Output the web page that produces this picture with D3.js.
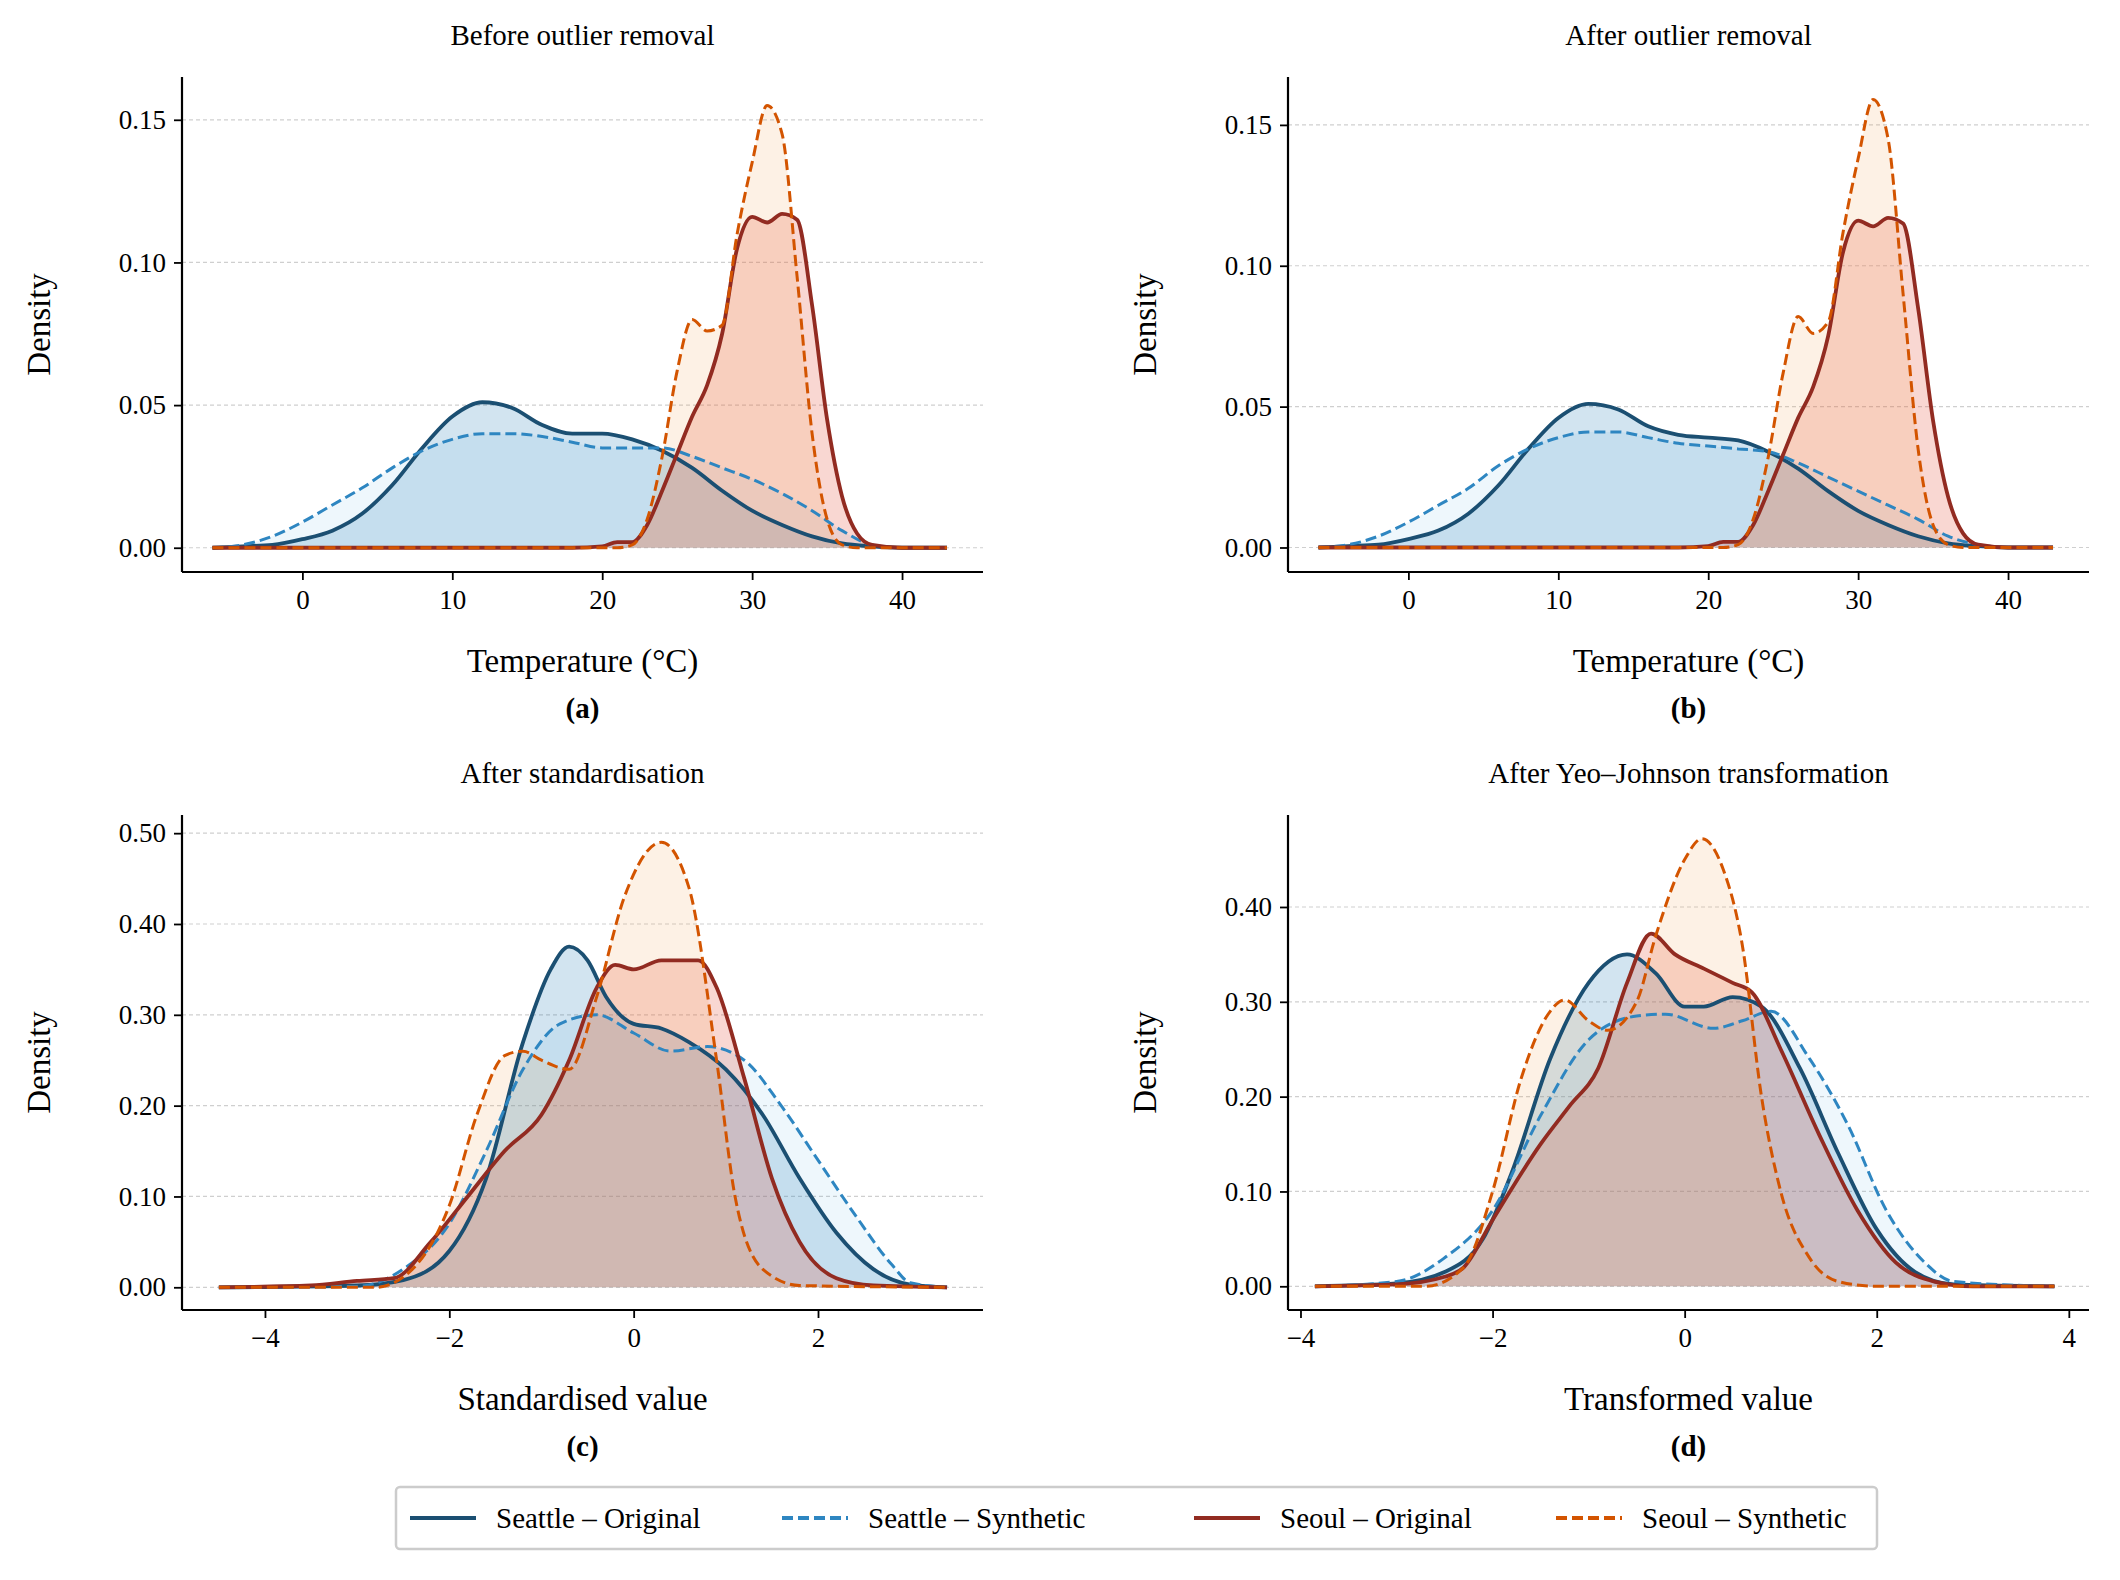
<!DOCTYPE html>
<html><head><meta charset="utf-8">
<script src="https://cdn.jsdelivr.net/npm/d3@7"></script>
<style>body{margin:0;background:#fff}text{font-family:"Liberation Serif","DejaVu Serif",serif;fill:#000}</style>
</head><body><svg id="chart" width="2120" height="1580"></svg>
<script>
// ---- data: KDE curves (x, density) ----
// panel (a) before outlier removal
const aSeaOrigX = [-6,-4,-2,0,2,4,6,8,10,12,14,16,18,20,22,24,26,28,30,32,34,36,38,40,43];
const aSeaOrigY = [0,0.0005,0.001,0.003,0.006,0.012,0.022,0.035,0.046,0.051,0.049,0.043,0.040,0.040,0.038,0.034,0.028,0.020,0.013,0.008,0.004,0.0015,0.0005,0,0];
const aSeaSynX = [-6,-4,-2,0,2,4,6,8,10,12,14,16,18,20,22,24,26,28,30,32,34,36,38,40,43];
const aSeaSynY = [0,0.001,0.004,0.009,0.015,0.021,0.028,0.034,0.038,0.040,0.040,0.039,0.037,0.035,0.035,0.035,0.032,0.028,0.024,0.019,0.013,0.006,0.001,0,0];
const aSeoOrigX = [-6,18,20,21,22,23,24,25,26,27,28,29,30,31,32,33,34,35,36,37,38,40,43];
const aSeoOrigY = [0,0,0.0005,0.002,0.002,0.008,0.020,0.033,0.046,0.057,0.075,0.105,0.116,0.114,0.117,0.115,0.085,0.045,0.018,0.005,0.001,0,0];
const aSeoSynX = [-6,21,22,23,24,25,26,27,28,29,30,31,32,33,34,35,36,37,43];
const aSeoSynY = [0,0,0.001,0.010,0.032,0.062,0.080,0.076,0.078,0.110,0.135,0.155,0.145,0.095,0.040,0.010,0.001,0,0];
// panel (b) after outlier removal
const bSeaOrigY = [0,0.0005,0.001,0.003,0.006,0.012,0.022,0.035,0.046,0.051,0.049,0.043,0.040,0.039,0.038,0.034,0.028,0.020,0.013,0.008,0.004,0.0015,0.0005,0,0];
const bSeaSynY = [0,0.001,0.004,0.009,0.015,0.021,0.029,0.035,0.039,0.041,0.041,0.039,0.037,0.036,0.035,0.034,0.030,0.025,0.020,0.015,0.010,0.004,0.001,0,0];
const bSeoOrigY = [0,0,0.0005,0.002,0.002,0.008,0.020,0.033,0.046,0.057,0.075,0.105,0.116,0.114,0.117,0.115,0.085,0.045,0.018,0.005,0.001,0,0];
const bSeoSynY = [0,0,0.001,0.010,0.032,0.062,0.082,0.076,0.080,0.112,0.138,0.159,0.145,0.090,0.035,0.008,0.001,0,0];
// panel (c) after standardisation
const cSeaOrigX = [-4.5,-3,-2.5,-2,-1.6,-1.2,-0.9,-0.7,-0.5,-0.3,0,0.3,0.6,1,1.4,1.8,2.2,2.6,3,3.4];
const cSeaOrigY = [0,0.002,0.008,0.04,0.12,0.27,0.35,0.375,0.36,0.32,0.29,0.285,0.27,0.24,0.19,0.12,0.06,0.02,0.003,0];
const cSeaSynX = [-4.5,-3,-2.5,-2,-1.6,-1.2,-0.8,-0.4,0,0.4,0.8,1.2,1.6,2,2.4,2.8,3,3.4];
const cSeaSynY = [0,0.001,0.02,0.07,0.15,0.24,0.29,0.30,0.28,0.26,0.265,0.25,0.2,0.14,0.08,0.025,0.005,0];
const cSeoOrigX = [-4.5,-3.5,-3,-2.6,-2.2,-1.8,-1.4,-1,-0.7,-0.4,-0.2,0,0.3,0.7,0.9,1.2,1.5,1.8,2.2,2.6,3.4];
const cSeoOrigY = [0,0.002,0.007,0.01,0.05,0.1,0.15,0.19,0.25,0.33,0.355,0.35,0.36,0.36,0.33,0.23,0.12,0.05,0.01,0.002,0];
const cSeoSynX = [-4.5,-2.8,-2.4,-2,-1.7,-1.4,-1.2,-1,-0.7,-0.4,-0.1,0.3,0.6,0.9,1.1,1.4,1.8,3.4];
const cSeoSynY = [0,0,0.02,0.09,0.19,0.255,0.26,0.25,0.24,0.32,0.43,0.49,0.44,0.25,0.1,0.02,0.002,0];
// panel (d) after Yeo–Johnson
const dSeaOrigX = [-3.85,-3,-2.5,-2.1,-1.8,-1.4,-1,-0.6,-0.3,0,0.2,0.5,0.8,1.2,1.6,2,2.4,2.8,3.85];
const dSeaOrigY = [0,0.003,0.015,0.05,0.12,0.24,0.32,0.35,0.33,0.295,0.295,0.305,0.295,0.23,0.14,0.06,0.015,0.002,0];
const dSeaSynX = [-3.85,-3,-2.5,-2,-1.5,-1,-0.5,-0.2,0.3,0.6,0.9,1.3,1.7,2.1,2.5,2.8,3.85];
const dSeaSynY = [0,0.005,0.03,0.08,0.18,0.26,0.285,0.287,0.272,0.28,0.29,0.24,0.17,0.08,0.025,0.005,0];
const dSeoOrigX = [-3.85,-3,-2.5,-2.3,-2,-1.5,-1.2,-0.9,-0.6,-0.35,-0.1,0.2,0.5,0.7,1,1.4,1.8,2.2,2.6,3,3.85];
const dSeoOrigY = [0,0.002,0.01,0.02,0.07,0.15,0.19,0.23,0.32,0.372,0.35,0.335,0.32,0.31,0.25,0.16,0.08,0.025,0.005,0,0];
const dSeoSynX = [-3.85,-2.7,-2.3,-2,-1.7,-1.4,-1.25,-1,-0.8,-0.5,-0.3,0,0.18,0.4,0.6,0.8,1,1.3,1.6,2,3.85];
const dSeoSynY = [0,0,0.02,0.1,0.22,0.29,0.302,0.28,0.27,0.3,0.37,0.45,0.472,0.44,0.36,0.2,0.1,0.03,0.005,0,0];

const seriesNames = ["Seattle – Original","Seattle – Synthetic","Seoul – Original","Seoul – Synthetic"];
const lineColors = ["#1b4f72","#2e86c1","#922b21","#d35400"];
const fillColors = ["#1f77b4","#5dade2","#e34a33","#f0a050"];
const fillOpac = [0.2,0.1,0.22,0.15];
const dashed = [false,true,false,true];

const panels = [
  {title:"Before outlier removal", xlab:"Temperature (°C)", tag:"(a)", xd:[-8.03,45.4], yd:[-0.0085,0.165],
   xt:[0,10,20,30,40], yt:[0,0.05,0.10,0.15], yf:".2f", left:182, top:77,
   s:[[aSeaOrigX,aSeaOrigY],[aSeaSynX,aSeaSynY],[aSeoOrigX,aSeoOrigY],[aSeoSynX,aSeoSynY]]},
  {title:"After outlier removal", xlab:"Temperature (°C)", tag:"(b)", xd:[-8.03,45.4], yd:[-0.0087,0.167],
   xt:[0,10,20,30,40], yt:[0,0.05,0.10,0.15], yf:".2f", left:1288, top:77,
   s:[[aSeaOrigX,bSeaOrigY],[aSeaSynX,bSeaSynY],[aSeoOrigX,bSeoOrigY],[aSeoSynX,bSeoSynY]]},
  {title:"After standardisation", xlab:"Standardised value", tag:"(c)", xd:[-4.9,3.79], yd:[-0.025,0.52],
   xt:[-4,-2,0,2], yt:[0,0.1,0.2,0.3,0.4,0.5], yf:".2f", left:182, top:815,
   s:[[cSeaOrigX,cSeaOrigY],[cSeaSynX,cSeaSynY],[cSeoOrigX,cSeoOrigY],[cSeoSynX,cSeoSynY]]},
  {title:"After Yeo–Johnson transformation", xlab:"Transformed value", tag:"(d)", xd:[-4.13,4.21], yd:[-0.025,0.497],
   xt:[-4,-2,0,2,4], yt:[0,0.1,0.2,0.3,0.4], yf:".2f", left:1288, top:815,
   s:[[dSeaOrigX,dSeaOrigY],[dSeaSynX,dSeaSynY],[dSeoOrigX,dSeoOrigY],[dSeoSynX,dSeoSynY]]}
];

const W = 801, H = 495;
const svg = d3.select("#chart");

panels.forEach(p => {
  const g = svg.append("g").attr("transform", `translate(${p.left},${p.top})`);
  const x = d3.scaleLinear().domain(p.xd).range([0, W]);
  const y = d3.scaleLinear().domain(p.yd).range([H, 0]);

  g.selectAll(".grid").data(p.yt).join("line")
    .attr("x1", 0).attr("x2", W).attr("y1", d => y(d)).attr("y2", d => y(d))
    .attr("stroke", "#cfcfcf").attr("stroke-width", 1.2).attr("stroke-dasharray", "4,3");

  const area = d3.area().curve(d3.curveMonotoneX).x(d => x(d[0])).y0(y(0)).y1(d => y(d[1]));
  const line = d3.line().curve(d3.curveMonotoneX).x(d => x(d[0])).y(d => y(d[1]));
  const pts = p.s.map(([xs, ys]) => xs.map((v, i) => [v, ys[i]]));

  pts.forEach((d, i) => g.append("path").attr("d", area(d)).attr("fill", fillColors[i]).attr("fill-opacity", fillOpac[i]));
  pts.forEach((d, i) => g.append("path").attr("d", line(d)).attr("fill", "none")
    .attr("stroke", lineColors[i]).attr("stroke-width", dashed[i] ? 3 : 3.8)
    .attr("stroke-dasharray", dashed[i] ? "11,5" : null));

  const xa = g.append("g").attr("transform", `translate(0,${H})`)
    .call(d3.axisBottom(x).tickValues(p.xt).tickFormat(d => d < 0 ? "−" + Math.abs(d) : d).tickSize(8).tickPadding(10));
  const ya = g.append("g")
    .call(d3.axisLeft(y).tickValues(p.yt).tickFormat(d3.format(p.yf)).tickSize(8).tickPadding(8));
  [xa, ya].forEach(a => {
    a.select(".domain").attr("stroke", "#000").attr("stroke-width", 2.2).attr("d", a === xa ? `M0,0H${W}` : `M0,0V${H}`);
    a.selectAll(".tick line").attr("stroke", "#000").attr("stroke-width", 1.8);
    a.selectAll("text").attr("font-size", 27).attr("font-family", "Liberation Serif");
  });

  g.append("text").attr("x", W / 2).attr("y", -32).attr("text-anchor", "middle").attr("font-size", 29).text(p.title);
  g.append("text").attr("x", W / 2).attr("y", H + 100).attr("text-anchor", "middle").attr("font-size", 33).text(p.xlab);
  g.append("text").attr("x", W / 2).attr("y", H + 146).attr("text-anchor", "middle").attr("font-size", 29).attr("font-weight", "bold").text(p.tag);
  g.append("text").attr("transform", `translate(-132,${H / 2}) rotate(-90)`).attr("text-anchor", "middle").attr("font-size", 33).text("Density");
});

// legend
const lg = svg.append("g").attr("transform", "translate(396,1487)");
lg.append("rect").attr("width", 1481).attr("height", 62).attr("rx", 4).attr("fill", "#fff").attr("stroke", "#cccccc").attr("stroke-width", 2.5);
const offs = [14, 386, 798, 1160];
seriesNames.forEach((n, i) => {
  const it = lg.append("g").attr("transform", `translate(${offs[i]},31)`);
  it.append("line").attr("x1", 0).attr("x2", 66).attr("stroke", lineColors[i]).attr("stroke-width", 4)
    .attr("stroke-dasharray", dashed[i] ? "11,5" : null);
  it.append("text").attr("x", 86).attr("y", 10).attr("font-size", 29).text(n);
});
</script></body></html>
